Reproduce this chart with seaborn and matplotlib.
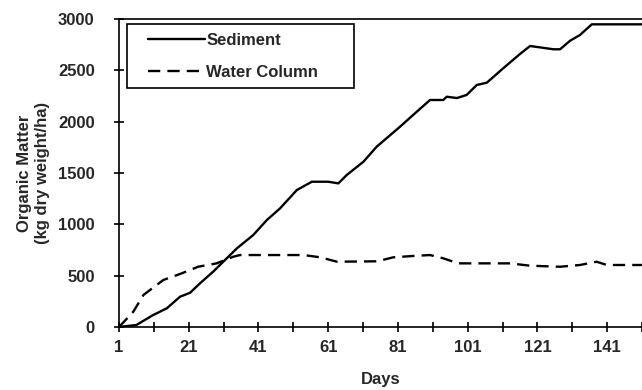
import matplotlib
matplotlib.use("Agg")
import matplotlib.pyplot as plt
from matplotlib.patches import Rectangle
from matplotlib.lines import Line2D
import seaborn as sns
import pandas as pd

# Cumulative organic matter (kg dry weight/ha) by day
sediment_days = [1, 6, 10.8, 14.7, 18.5, 21.4, 24.2, 28, 30.9, 34.8, 39.5, 43.4, 47.2, 52,
                 56.3, 61, 63.9, 66.3, 71.1, 74.9, 81.6, 86.4, 90.2, 94, 95, 97.9, 100.7,
                 103.6, 106.5, 111.2, 116, 118.9, 125.6, 127.5, 130.4, 133.2, 136.6, 151]
sediment_vals = [0, 20, 117, 182, 295, 334, 425, 539, 636, 766, 896, 1042, 1156, 1334,
                 1415, 1415, 1399, 1480, 1610, 1756, 1951, 2097, 2211, 2211, 2243, 2230, 2260,
                 2357, 2380, 2520, 2659, 2737, 2705, 2705, 2789, 2844, 2948, 2948]

water_days = [1, 5.1, 8, 13.7, 19, 23.7, 29, 33.8, 35.7, 53.9, 58.7, 63.5, 75, 79.7, 85.4,
              90.2, 94, 98.3, 113.2, 118.9, 127.5, 133.2, 138, 140.9, 151]
water_vals = [0, 149, 312, 458, 523, 587, 620, 685, 701, 701, 679, 636, 640, 679, 692,
              701, 669, 620, 620, 597, 587, 604, 636, 604, 604]

x_major = [1, 21, 41, 61, 81, 101, 121, 141]
x_minor = [11, 31, 51, 71, 91, 111, 131, 151]
y_ticks = [0, 500, 1000, 1500, 2000, 2500, 3000]

sns.set_style("ticks")
plt.rcParams["font.family"] = ["Liberation Sans", "DejaVu Sans"]
plt.rcParams["font.weight"] = "bold"

FS = 12
LW = 1.7
DASH = (0, (5.2, 3.0))

fig = plt.figure(figsize=(6.42, 3.90), dpi=100)
ax = fig.add_axes([0.1854, 0.1615, 0.8146, 0.7898])

sed = pd.DataFrame({"Days": sediment_days, "Value": sediment_vals})
wat = pd.DataFrame({"Days": water_days, "Value": water_vals})

sns.lineplot(data=sed, x="Days", y="Value", ax=ax, color="black", lw=LW,
             estimator=None, sort=False, legend=False)
sns.lineplot(data=wat, x="Days", y="Value", ax=ax, color="black", lw=LW,
             estimator=None, sort=False, legend=False)
ax.lines[1].set_linestyle(DASH)

ax.set_xlim(1, 151)
ax.set_ylim(0, 3000)
ax.set_xticks(x_major)
ax.set_xticks(x_minor, minor=True)
ax.set_yticks(y_ticks)
ax.set_xticklabels([str(v) for v in x_major], fontsize=FS, fontweight="bold")
ax.set_yticklabels([str(v) for v in y_ticks], fontsize=FS, fontweight="bold")
ax.tick_params(axis="both", which="both", direction="inout", length=7, width=1.2,
               color="black")
ax.tick_params(axis="y", pad=14)
ax.tick_params(axis="x", pad=6)

for side in ["left", "bottom", "top"]:
    ax.spines[side].set_color("black")
    ax.spines[side].set_linewidth(1.2)
ax.spines["right"].set_visible(False)

ax.set_xlabel("Days", fontsize=FS, fontweight="bold", labelpad=12)
ax.set_ylabel("Organic Matter\n(kg dry weight/ha)", fontsize=FS, fontweight="bold",
              linespacing=1.25)
ax.yaxis.set_label_coords(-0.132, 0.50)

# legend: framed box with handles and labels placed inside it
ax.add_patch(Rectangle((0.0153, 0.776), 0.434, 0.208, transform=ax.transAxes,
                       facecolor="white", edgecolor="black", lw=1.2, zorder=5))
handles = [Line2D([], [], color="black", lw=LW),
           Line2D([], [], color="black", lw=LW, linestyle=DASH)]
leg = ax.legend(handles, ["Sediment", "Water Column"], loc="upper left",
                bbox_to_anchor=(0.0555, 0.955), frameon=False, fontsize=FS,
                handlelength=3.4, handletextpad=0.1, borderpad=0, labelspacing=1.0,
                borderaxespad=0)
leg.set_zorder(6)
for t in leg.get_texts():
    t.set_fontweight("bold")

fig.savefig("out.png", dpi=100)
